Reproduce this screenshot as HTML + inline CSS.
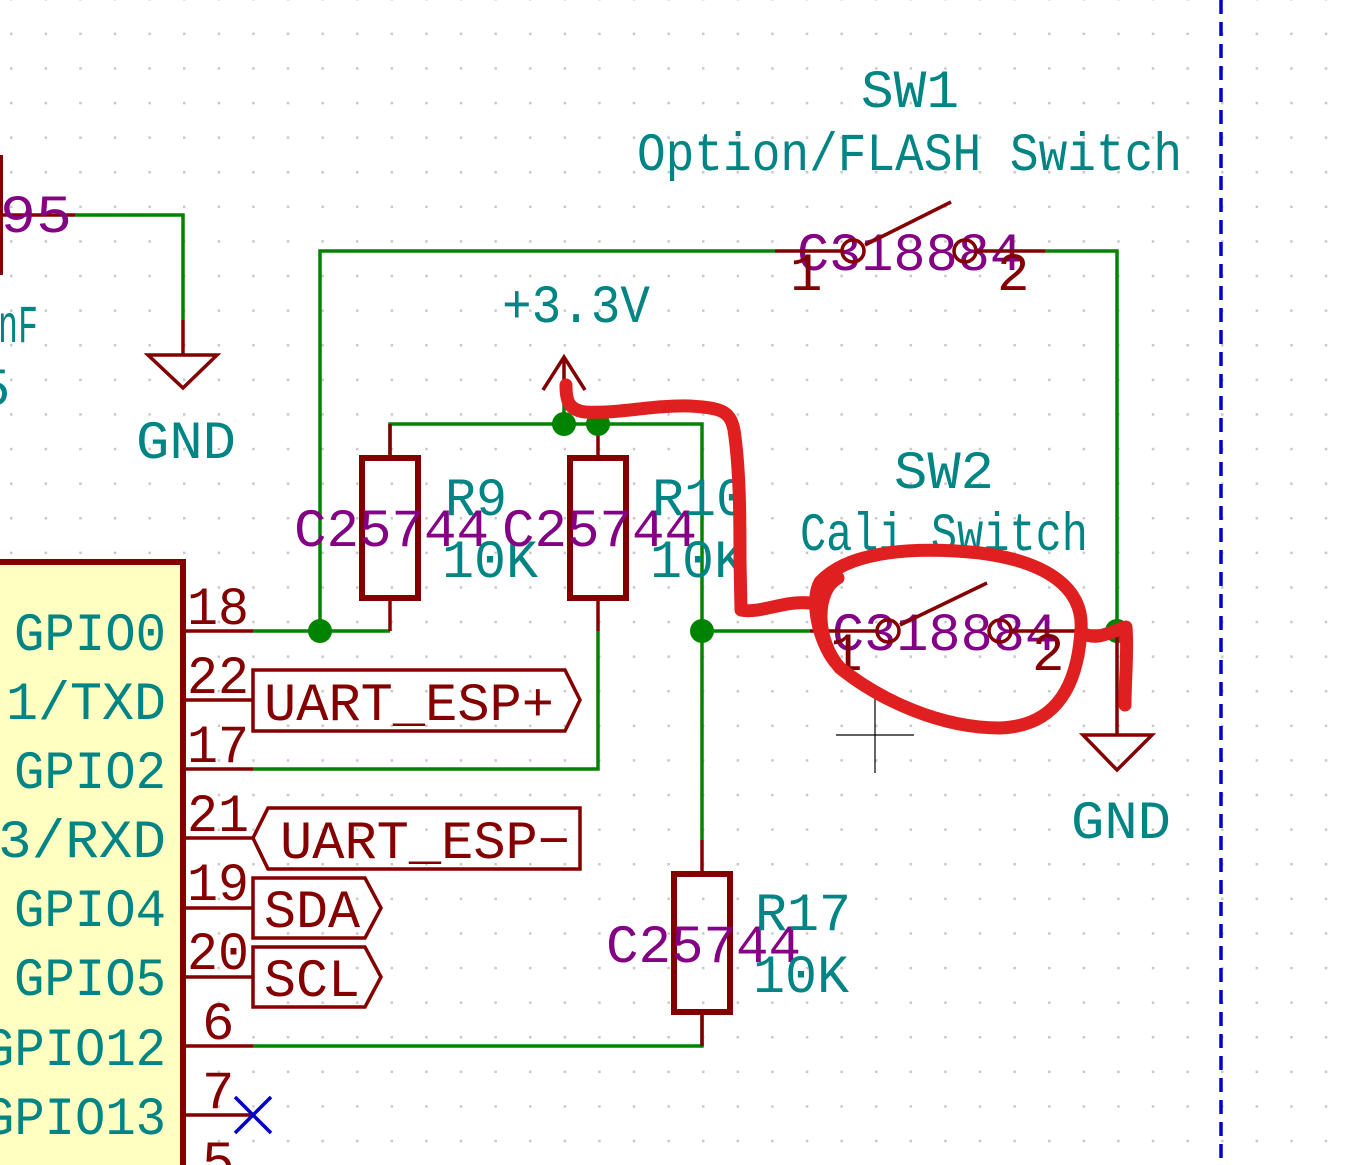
<!DOCTYPE html>
<html><head><meta charset="utf-8"><style>
html,body{margin:0;padding:0;background:#fff;width:1358px;height:1165px;overflow:hidden}
svg{display:block}
text{font-family:"Liberation Mono","DejaVu Sans Mono",monospace;font-size:54px}
.t{fill:#008484}.p{fill:#840084}.r{fill:#840000}
.w{stroke:#008400;stroke-width:3.5;fill:none}
.d{stroke:#840000;stroke-width:3.5;fill:none}
.D{stroke:#840000;stroke-width:6;fill:none}
</style></head><body>
<svg width="1358" height="1165" viewBox="0 0 1358 1165" xmlns="http://www.w3.org/2000/svg">
<defs><pattern id="g" x="10" y="-2" width="34.6" height="34.6" patternUnits="userSpaceOnUse"><rect width="2.5" height="2.5" fill="#c8c8c8"/></pattern></defs>
<rect width="1358" height="1165" fill="url(#g)"/>
<!-- dashed border -->
<line x1="1221" y1="0" x2="1221" y2="1165" stroke="#0000c8" stroke-width="3.5" stroke-dasharray="14,8"/>
<!-- top-left cap / GND -->
<line x1="0" y1="155" x2="0" y2="275" class="D"/>
<line x1="0" y1="215" x2="75" y2="215" class="d"/>
<polyline points="75,215 183,215 183,320" class="w"/>
<line x1="183" y1="320" x2="183" y2="355" class="d"/>
<polygon points="148,355 217,355 183,388" class="d"/>
<text x="0" y="232" class="p" textLength="72" lengthAdjust="spacingAndGlyphs">95</text>
<text x="-2" y="342" class="t" textLength="40" lengthAdjust="spacingAndGlyphs">nF</text>
<text x="-22" y="405" class="t">5</text>
<text x="136" y="458" class="t" textLength="100" lengthAdjust="spacingAndGlyphs">GND</text>
<!-- IC -->
<rect x="-10" y="562" width="193" height="620" fill="#ffffc2" stroke="#840000" stroke-width="6"/>
<g class="d">
<line x1="183" y1="631" x2="253" y2="631"/><line x1="183" y1="700" x2="253" y2="700"/>
<line x1="183" y1="769" x2="253" y2="769"/><line x1="183" y1="838" x2="253" y2="838"/>
<line x1="183" y1="908" x2="253" y2="908"/><line x1="183" y1="977" x2="253" y2="977"/>
<line x1="183" y1="1046" x2="253" y2="1046"/><line x1="183" y1="1115" x2="253" y2="1115"/>
</g>
<g class="r">
<text x="187" y="624" textLength="62" lengthAdjust="spacingAndGlyphs">18</text>
<text x="187" y="693" textLength="62" lengthAdjust="spacingAndGlyphs">22</text>
<text x="187" y="762" textLength="62" lengthAdjust="spacingAndGlyphs">17</text>
<text x="187" y="831" textLength="62" lengthAdjust="spacingAndGlyphs">21</text>
<text x="187" y="900" textLength="62" lengthAdjust="spacingAndGlyphs">19</text>
<text x="187" y="969" textLength="62" lengthAdjust="spacingAndGlyphs">20</text>
<text x="202" y="1039">6</text>
<text x="202" y="1108">7</text>
<text x="202" y="1178">5</text>
</g>
<g class="t" text-anchor="end">
<text x="166" y="650" textLength="152" lengthAdjust="spacingAndGlyphs">GPIO0</text>
<text x="166" y="719" textLength="160" lengthAdjust="spacingAndGlyphs">1/TXD</text>
<text x="166" y="788" textLength="152" lengthAdjust="spacingAndGlyphs">GPIO2</text>
<text x="166" y="857" textLength="168" lengthAdjust="spacingAndGlyphs">3/RXD</text>
<text x="166" y="926" textLength="152" lengthAdjust="spacingAndGlyphs">GPIO4</text>
<text x="166" y="995" textLength="152" lengthAdjust="spacingAndGlyphs">GPIO5</text>
<text x="166" y="1065" textLength="182" lengthAdjust="spacingAndGlyphs">GPIO12</text>
<text x="166" y="1134" textLength="182" lengthAdjust="spacingAndGlyphs">GPIO13</text>
</g>
<!-- hier labels -->
<polygon points="253,670 565,670 580,700 565,731 253,731" class="d"/>
<text x="264" y="720" class="r" textLength="290" lengthAdjust="spacingAndGlyphs">UART_ESP+</text>
<polygon points="253,838 268,808 580,808 580,869 268,869" class="d"/>
<text x="280" y="858" class="r" textLength="290" lengthAdjust="spacingAndGlyphs">UART_ESP−</text>
<polygon points="253,878 365,878 381,908 365,938 253,938" class="d"/>
<text x="264" y="927" class="r" textLength="96" lengthAdjust="spacingAndGlyphs">SDA</text>
<polygon points="253,947 365,947 381,977 365,1007 253,1007" class="d"/>
<text x="264" y="996" class="r" textLength="96" lengthAdjust="spacingAndGlyphs">SCL</text>
<g stroke="#0000c8" stroke-width="3.5"><line x1="235" y1="1097" x2="271" y2="1133"/><line x1="271" y1="1097" x2="235" y2="1133"/></g>
<!-- wires -->
<polyline points="320,631 320,251 775,251" class="w"/>
<polyline points="1045,251 1117,251 1117,631" class="w"/>
<line x1="253" y1="631" x2="390" y2="631" class="w"/>
<polyline points="390,458 390,424 702,424 702,840" class="w"/>
<polyline points="598,631 598,769 253,769" class="w"/>
<polyline points="702,1012 702,1046 253,1046" class="w"/>
<line x1="702" y1="631" x2="810" y2="631" class="w"/>
<line x1="1080" y1="631" x2="1117" y2="631" class="w"/>
<line x1="564" y1="424" x2="564" y2="400" class="w"/>
<!-- resistor pins & bodies -->
<g class="d">
<line x1="390" y1="424" x2="390" y2="458"/><line x1="390" y1="598" x2="390" y2="631"/>
<line x1="598" y1="424" x2="598" y2="458"/><line x1="598" y1="598" x2="598" y2="631"/>
<line x1="702" y1="840" x2="702" y2="874"/><line x1="702" y1="1012" x2="702" y2="1046"/>
</g>
<rect x="362" y="458" width="56" height="140" class="D"/>
<rect x="570" y="458" width="56" height="140" class="D"/>
<rect x="674" y="874" width="56" height="138" class="D"/>
<g fill="#008400"><circle cx="320" cy="631" r="12"/><circle cx="564" cy="424" r="12"/><circle cx="598" cy="424" r="12"/><circle cx="702" cy="631" r="12"/><circle cx="1117" cy="631" r="12"/></g>
<!-- +3.3V -->
<line x1="564" y1="400" x2="564" y2="357" class="d"/>
<polyline points="543,390 564,357 585,390" class="d"/>
<text x="502" y="322" class="t" textLength="148" lengthAdjust="spacingAndGlyphs">+3.3V</text>
<!-- R labels -->
<text x="294" y="546" class="p" textLength="195" lengthAdjust="spacingAndGlyphs">C25744</text>
<text x="445" y="515" class="t" textLength="62" lengthAdjust="spacingAndGlyphs">R9</text>
<text x="442" y="577" class="t" textLength="96" lengthAdjust="spacingAndGlyphs">10K</text>
<text x="502" y="546" class="p" textLength="195" lengthAdjust="spacingAndGlyphs">C25744</text>
<text x="652" y="515" class="t" textLength="96" lengthAdjust="spacingAndGlyphs">R10</text>
<text x="650" y="577" class="t" textLength="96" lengthAdjust="spacingAndGlyphs">10K</text>
<text x="606" y="962" class="p" textLength="195" lengthAdjust="spacingAndGlyphs">C25744</text>
<text x="755" y="930" class="t" textLength="96" lengthAdjust="spacingAndGlyphs">R17</text>
<text x="753" y="992" class="t" textLength="96" lengthAdjust="spacingAndGlyphs">10K</text>
<!-- SW1 -->
<text x="910" y="107" class="t" text-anchor="middle" textLength="98" lengthAdjust="spacingAndGlyphs">SW1</text>
<text x="637" y="170" class="t" textLength="545" lengthAdjust="spacingAndGlyphs">Option/FLASH Switch</text>
<text x="797" y="270" class="p" textLength="225" lengthAdjust="spacingAndGlyphs">C318884</text>
<line x1="775" y1="251" x2="843" y2="251" class="d"/>
<circle cx="853" cy="251" r="11" class="d"/>
<circle cx="965" cy="251" r="11" class="d"/>
<line x1="976" y1="251" x2="1045" y2="251" class="d"/>
<line x1="865" y1="245" x2="951" y2="202" class="d"/>
<text x="790" y="290" class="r">1</text>
<text x="997" y="290" class="r">2</text>
<!-- SW2 -->
<text x="944" y="488" class="t" text-anchor="middle" textLength="100" lengthAdjust="spacingAndGlyphs">SW2</text>
<text x="800" y="550" class="t" textLength="288" lengthAdjust="spacingAndGlyphs">Cali Switch</text>
<text x="832" y="650" class="p" textLength="225" lengthAdjust="spacingAndGlyphs">C318884</text>
<line x1="810" y1="631" x2="877" y2="631" class="d"/>
<circle cx="888" cy="631" r="11" class="d"/>
<circle cx="1000" cy="631" r="11" class="d"/>
<line x1="1011" y1="631" x2="1080" y2="631" class="d"/>
<line x1="900" y1="625" x2="987" y2="583" class="d"/>
<text x="830" y="670" class="r">1</text>
<text x="1032" y="670" class="r">2</text>
<!-- GND right -->
<line x1="1117" y1="631" x2="1117" y2="735" class="d"/>
<polygon points="1083,735 1152,735 1117,770" class="d"/>
<text x="1071" y="838" class="t" textLength="100" lengthAdjust="spacingAndGlyphs">GND</text>
<!-- cursor -->
<g stroke="#000" stroke-width="1.2"><line x1="836" y1="735" x2="914" y2="735"/><line x1="875" y1="697" x2="875" y2="773"/></g>
<!-- red scribble -->
<g stroke="#e02020" stroke-width="13" fill="none" stroke-linecap="round" stroke-linejoin="round">
<path d="M566,385 C566,400 568,410 585,412 C620,414 650,405 690,406 C720,408 730,410 734,430 C740,470 740,520 740,560 L741,610 C760,614 785,600 810,603"/>
<path d="M838,578 C815,590 815,640 840,668 C880,700 940,728 1000,728 C1060,726 1078,680 1081,630 C1084,590 1050,562 980,553 C900,545 845,555 820,582 C810,600 818,640 835,662"/>
<path d="M1081,632 C1095,642 1110,632 1126,627 C1128,650 1125,680 1125,705"/>
</g>
</svg>
</body></html>
